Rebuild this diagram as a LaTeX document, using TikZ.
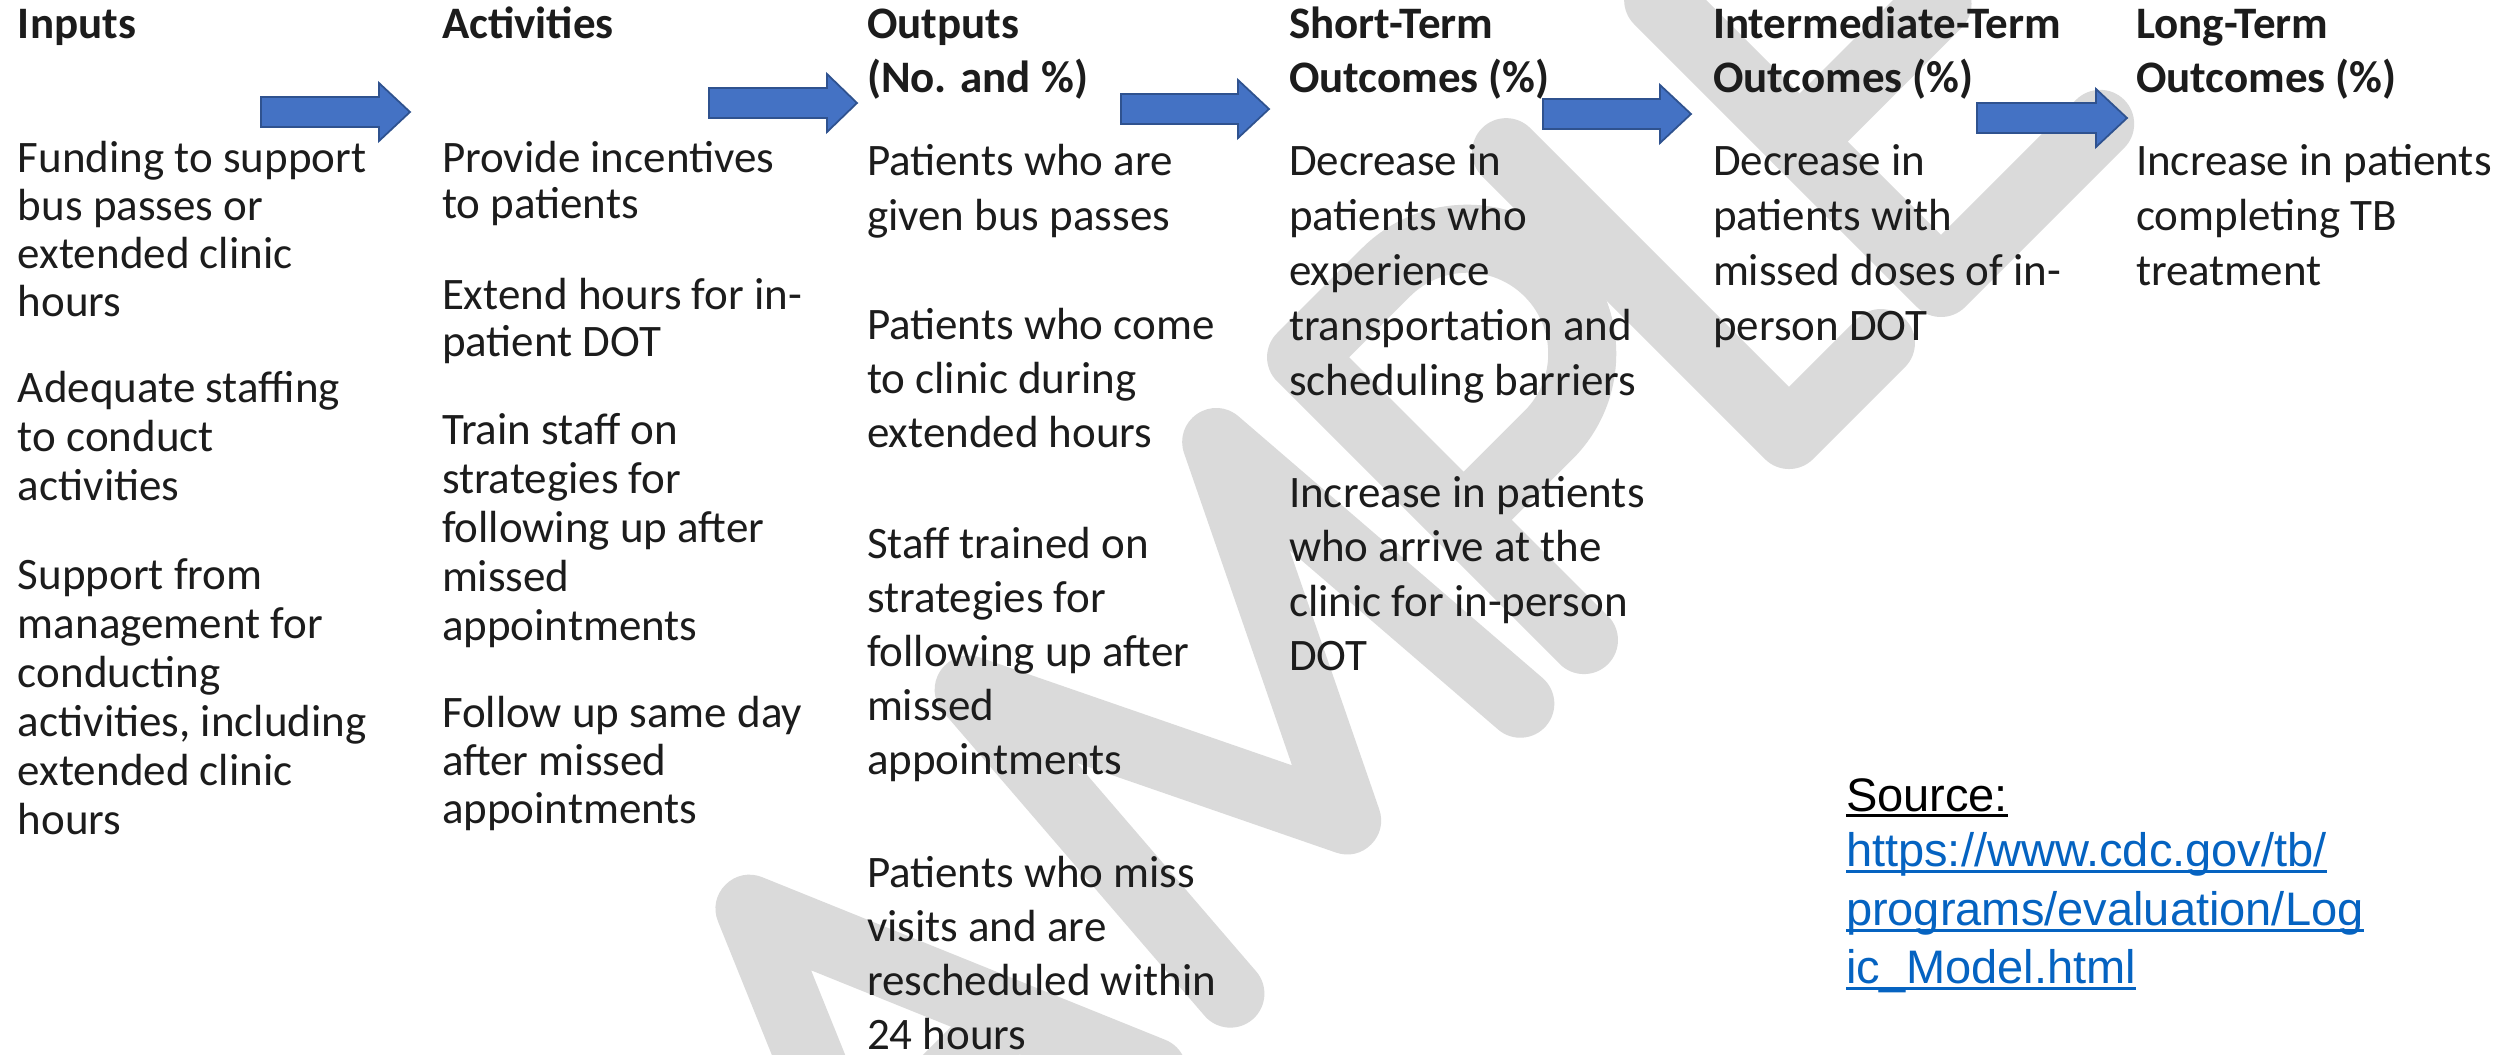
\documentclass[tikz,border=0pt]{standalone}
\usepackage{fontspec}
\setmainfont{Carlito}
\newfontfamily\srcfont{Liberation Sans}
\definecolor{txt}{RGB}{28,28,28}
\definecolor{arrowfill}{RGB}{68,114,196}
\definecolor{arrowline}{RGB}{47,82,143}
\definecolor{linkblue}{RGB}{5,99,193}
\definecolor{wm}{RGB}{218,218,218}
\newcommand\para[2]{\fontsize{12.8pt}{#1pt}\selectfont\begin{tabular}[t]{@{}l@{}}#2\end{tabular}}
\newcommand\blockarrow[4]{%
  \filldraw[blockarrow] (#1,#4-15) -- (#2,#4-15) -- (#2,#4-29) -- (#3,#4) -- (#2,#4+29) -- (#2,#4+15) -- (#1,#4+15) -- cycle;}
\tikzset{
  bodytext/.style={anchor=base west, inner sep=0pt, outer sep=0pt, text=txt},
  headtext/.style={anchor=base west, inner sep=0pt, outer sep=0pt, text=txt, font=\bfseries},
  blockarrow/.style={fill=arrowfill, draw=arrowline, line width=0.5pt, line join=miter},
  srctext/.style={anchor=base west, inner sep=0pt, outer sep=0pt, font=\srcfont\fontsize{13.37pt}{16pt}\selectfont},
  uline/.style={line width=0.85pt},
  wmstroke/.style={draw=wm, line width=0.68cm, line cap=round, line join=round},
}
\begin{document}
\begin{tikzpicture}[x=0.01cm, y=-0.01cm]
\useasboundingbox (0,0) rectangle (2502,1054);
\fill[white] (0,0) rectangle (2502,1054);
% watermark "SAMPLE" drawn as rounded strokes
\begin{scope}
\clip (0,0) rectangle (2502,1054);
\begin{scope}[shift={(1789,435)}, rotate=45, x=0.01cm, y=0.01cm]
 % S
 \draw[wmstroke] (-1320,330) .. controls (-1360,410) and (-1590,420) .. (-1590,300)
   .. controls (-1590,190) and (-1320,230) .. (-1320,100)
   .. controls (-1320,-30) and (-1570,-20) .. (-1610,60);
 % A
 \draw[wmstroke] (-1240,0) -- (-1070,400) -- (-900,0);
 \draw[wmstroke] (-1180,140) -- (-960,140);
 % M
 \draw[wmstroke] (-790,0) -- (-760,400) -- (-585,40) -- (-410,400) -- (-380,0);
 % P
 \draw[wmstroke] (-290,0) -- (-290,400) -- (-170,400) arc[start angle=90, end angle=-90, radius=115] -- (-290,170);
 % L
 \draw[wmstroke] (0,400) -- (0,0) -- (130,0);
 % E
 \draw[wmstroke] (440,400) -- (215,400) -- (215,0) -- (440,0);
 \draw[wmstroke] (215,200) -- (410,200);
\end{scope}
\end{scope}
% headers
\node[headtext] (hin) at (18,38) {\para{15.36}{Inputs}};
\node[headtext] (hac) at (442,38) {\para{15.36}{Activities}};
\node[headtext] (hou) at (867,38) {\para{15.36}{Outputs\\(No. and \%)}};
\node[headtext] (hst) at (1289,38) {\para{15.36}{Short-Term\\Outcomes (\%)}};
\node[headtext] (him) at (1713,38) {\para{15.36}{Intermediate-Term\\Outcomes (\%)}};
\node[headtext] (hlt) at (2136,38) {\para{15.36}{Long-Term\\Outcomes (\%)}};
% inputs
\node[bodytext] (in1) at (18,172) {\para{13.66}{Funding to support\\bus passes or\\extended clinic\\hours}};
\node[bodytext] (in2) at (18,402) {\para{13.94}{Adequate staffing\\to conduct\\activities}};
\node[bodytext] (in3) at (18,589) {\para{13.94}{Support from\\management for\\conducting\\activities, including\\extended clinic\\hours}};
% activities
\node[bodytext] (ac1) at (442,172) {\para{13.09}{Provide incentives\\to patients}};
\node[bodytext] (ac2) at (442,309) {\para{13.37}{Extend hours for in-\\patient DOT}};
\node[bodytext] (ac3) at (442,444) {\para{13.94}{Train staff on\\strategies for\\following up after\\missed\\appointments}};
\node[bodytext] (ac4) at (442,727) {\para{13.66}{Follow up same day\\after missed\\appointments}};
% outputs
\node[bodytext] (ou1) at (867,175) {\para{15.65}{Patients who are\\given bus passes}};
\node[bodytext] (ou2) at (867,339) {\para{15.36}{Patients who come\\to clinic during\\extended hours}};
\node[bodytext] (ou3) at (867,558) {\para{15.36}{Staff trained on\\strategies for\\following up after\\missed\\appointments}};
\node[bodytext] (ou4) at (867,887) {\para{15.36}{Patients who miss\\visits and are\\rescheduled within\\24 hours}};
% short-term
\node[bodytext] (st1) at (1289,175) {\para{15.65}{Decrease in\\patients who\\experience\\transportation and\\scheduling barriers}};
\node[bodytext] (st2) at (1289,507) {\para{15.51}{Increase in patients\\who arrive at the\\clinic for in-person\\DOT}};
% intermediate
\node[bodytext] (im1) at (1713,175) {\para{15.65}{Decrease in\\patients with\\missed doses of in-\\person DOT}};
% long-term
\node[bodytext] (lt1) at (2136,175) {\para{15.65}{Increase in patients\\completing TB\\treatment}};
% arrows
\blockarrow{261}{379}{410}{112}
\blockarrow{709}{827}{857}{103}
\blockarrow{1121}{1238}{1269}{109}
\blockarrow{1543}{1660}{1691}{114}
\blockarrow{1977}{2096}{2127}{118}
% source
\node[srctext, text=black] (src) at (1846,811) {Source:};
\node[srctext, text=linkblue] (url1) at (1846,866) {https://www.cdc.gov/tb/};
\node[srctext, text=linkblue] (url2) at (1846,925) {programs/evaluation/Log};
\node[srctext, text=linkblue] (url3) at (1846,983) {ic\_Model.html};
\draw[uline, black] ([yshift=-1.4pt]src.base west) -- ([yshift=-1.4pt]src.base east);
\draw[uline, linkblue] ([yshift=-1.7pt]url1.base west) -- ([yshift=-1.7pt]url1.base east);
\draw[uline, linkblue] ([yshift=-1.7pt]url2.base west) -- ([yshift=-1.7pt]url2.base east);
\draw[uline, linkblue] ([yshift=-1.7pt]url3.base west) -- ([yshift=-1.7pt]url3.base east);
\end{tikzpicture}
\end{document}
